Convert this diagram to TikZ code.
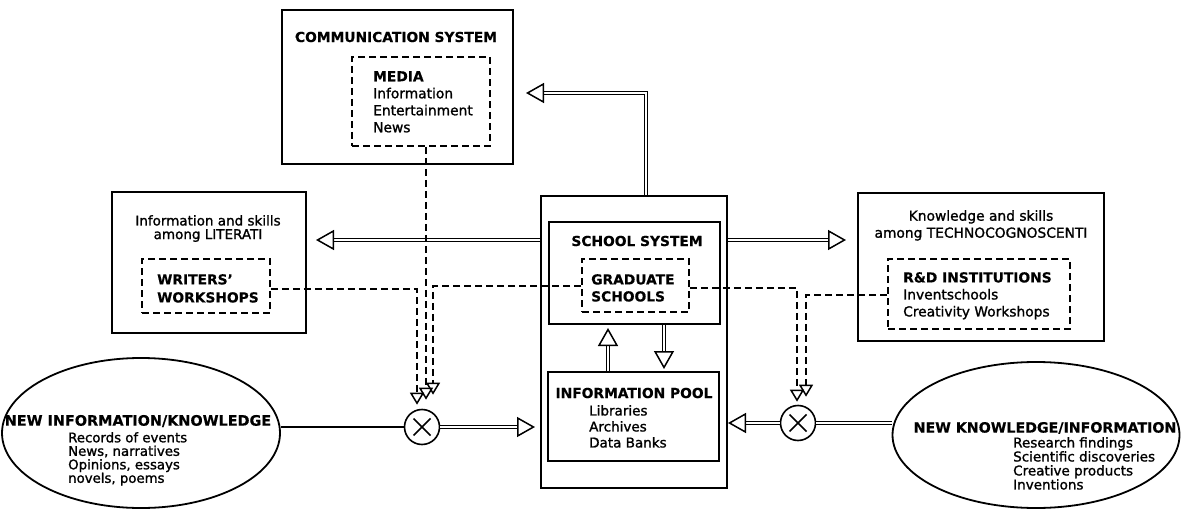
\documentclass[tikz,border=0pt]{standalone}
\usepackage{fontspec}
\setmainfont{DejaVu Sans}[UprightFeatures={FakeBold=1.3}, BoldFeatures={FakeBold=0.4}]
\usetikzlibrary{arrows.meta, fit, shapes.geometric, calc}

\tikzset{
    box/.style={draw, line width=2pt, inner sep=0pt},
    dbox/.style={box, line width=1.8pt, dash pattern=on 7pt off 4pt},
    blob/.style={draw, ellipse, line width=1.8pt, inner sep=0pt},
    mix/.style={draw, circle, line width=1.6pt, minimum size=35pt, inner sep=0pt,
        path picture={\draw[line width=1.5pt]
            (path picture bounding box.center) ++(-8.5pt,-8.5pt) -- ++(17pt,17pt)
            (path picture bounding box.center) ++(-8.5pt,8.5pt) -- ++(17pt,-17pt);}},
    dbl/.style={double, double distance=1.5pt, line width=1.3pt},
    hollow/.style={dbl, -{Triangle[open, length=18pt, width=20pt, line width=1.5pt]}},
    feed/.style={line width=1.8pt, dash pattern=on 7pt off 4pt,
        -{Triangle[open, length=12pt, width=14pt, line width=1.5pt]}},
    txt/.style={inner sep=0pt, align=left, font=\fontsize{13.8}{17}\selectfont},
    hd/.style={inner sep=0pt, font=\bfseries\fontsize{13.8}{17}\selectfont},
}

\begin{document}
\begin{tikzpicture}[x=1pt, y=-1pt]
    \useasboundingbox (0,0) rectangle (1185,513);

    % boxes
    \node[box, fit={(282,10) (513,164)}] (comm) {};
    \node[dbox, fit={(352,57) (490,146)}] (media) {};
    \node[box, fit={(112,192) (306,333)}] (lit) {};
    \node[dbox, fit={(142,259) (270,313)}] (writers) {};
    \node[box, fit={(541,196) (727,488)}] (school) {};
    \node[box, fit={(549,222) (720,324)}] (schoolin) {};
    \node[dbox, fit={(582,259) (689,312)}] (grad) {};
    \node[box, fit={(548,372) (719,461)}] (pool) {};
    \node[box, fit={(858,193) (1104,341)}] (tech) {};
    \node[dbox, fit={(888,259) (1070,329)}] (rnd) {};
    \node[blob, minimum width=278, minimum height=150] at (141,433) (lnew) {};
    \node[blob, minimum width=287, minimum height=146] at (1036,435) (rnew) {};
    \node[mix] at (422,427) (mixL) {};
    \node[mix] at (798,423) (mixR) {};

    % labels
    \node[hd] at (396,37) (commlbl) {COMMUNICATION SYSTEM};
    \node[txt, anchor=north west] at (373,71) (medialbl)
        {\textbf{MEDIA}\\Information\\Entertainment\\News};
    \node[txt, align=center, anchor=north, font=\fontsize{13.5}{13.6}\selectfont]
        at (208,215) (litlbl) {Information and skills\\among LITERATI};
    \node[txt, anchor=north west, font=\bfseries\fontsize{13.8}{18}\selectfont]
        at (157,274) (writerslbl) {WRITERS'\\WORKSHOPS};
    \node[hd] at (637,241) (schoollbl) {SCHOOL SYSTEM};
    \node[txt, anchor=north west, font=\bfseries\fontsize{13.8}{17}\selectfont]
        at (591,274) (gradlbl) {GRADUATE\\SCHOOLS};
    \node[hd] at (634,393) (poollbl) {INFORMATION POOL};
    \node[txt, anchor=north west, font=\fontsize{13.5}{16}\selectfont]
        at (589,405) (poolitems) {Libraries\\Archives\\Data Banks};
    \node[txt, align=center, anchor=north] at (981,210) (techlbl)
        {Knowledge and skills\\among TECHNOCOGNOSCENTI};
    \node[txt, anchor=north west] at (903,272) (rndlbl)
        {\textbf{R\&D INSTITUTIONS}\\Inventschools\\Creativity Workshops};
    \node[hd, font=\bfseries\fontsize{14.4}{17}\selectfont] at (138,421) (lnewlbl)
        {NEW INFORMATION/KNOWLEDGE};
    \node[txt, anchor=north west, font=\fontsize{13.3}{13.5}\selectfont]
        at (68,432) (lnewitems) {Records of events\\News, narratives\\Opinions, essays\\novels, poems};
    \node[hd, font=\bfseries\fontsize{14.2}{17}\selectfont] at (1045,428) (rnewlbl)
        {NEW KNOWLEDGE/INFORMATION};
    \node[txt, anchor=north west, font=\fontsize{13.5}{14}\selectfont]
        at (1013,437) (rnewitems) {Research findings\\Scientific discoveries\\Creative products\\Inventions};

    % outflow from the school system
    \draw[hollow, shorten >=12pt] (school.north -| 646,0) |- (comm.east |- 0,93);
    \draw[hollow, shorten >=9pt] (school.west |- 0,240) -- (lit.east |- 0,240);
    \draw[hollow, shorten >=11pt] (school.east |- 0,240) -- (tech.west |- 0,240);
    \draw[hollow, shorten >=3pt] (pool.north -| 608,0) -- (schoolin.south -| 608,0);
    \draw[hollow, shorten >=2pt] (schoolin.south -| 664,0) -- (pool.north -| 664,0);

    % new material coming in
    \draw[line width=2.6pt] (lnew.east |- mixL) -- (mixL.west);
    \draw[hollow, shorten >=5pt] (mixL.east) -- (mixL.east -| school.west);
    \draw[dbl] (rnew.west |- mixR) -- (mixR.east);
    \draw[hollow] (mixR.west) -- (mixR.west -| school.east);

    % feedback into the mixers
    \draw[feed, shorten >=4pt] (writers.east |- 0,289) -| (mixL.north -| 417,0);
    \draw[feed, shorten >=9pt] (media.south -| 426,0) -- (mixL.north -| 426,0);
    \draw[feed, shorten >=14pt] (grad.west |- 0,286) -| (mixL.north -| 433,0);
    \draw[feed, shorten >=3pt] (grad.east |- 0,288) -| (mixR.north -| 797,0);
    \draw[feed, shorten >=8pt] (rnd.west |- 0,295) -| (mixR.north -| 806,0);
\end{tikzpicture}
\end{document}
